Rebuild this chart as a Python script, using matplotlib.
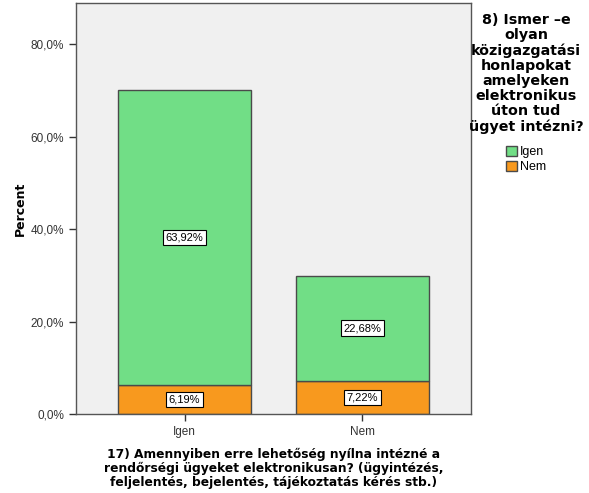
import matplotlib.pyplot as plt
from matplotlib.patches import Patch
from matplotlib.ticker import FuncFormatter

plt.rcParams["font.family"] = ["Liberation Sans", "DejaVu Sans"]

# 17) kérdés válaszai (x tengely) és a 8) kérdés szerinti bontás
categories = ["Igen", "Nem"]
igen_vals = [63.92, 22.68]
nem_vals = [6.19, 7.22]
series_names = ["Igen", "Nem"]

green = "#71DE86"
orange = "#F8991E"
edge = "#4a4a4a"
bold = {"family": "DejaVu Sans", "weight": "bold"}

fig = plt.figure(figsize=(5.89, 4.93), dpi=100)
ax = fig.add_axes([76 / 589, 1 - 414 / 493, 395 / 589, 411 / 493])
ax.set_facecolor("#F0F0F0")

x = list(range(len(categories)))
w = 0.747
ax.bar(x, nem_vals, w, color=orange, edgecolor=edge, linewidth=1.0, zorder=2)
ax.bar(x, igen_vals, w, bottom=nem_vals, color=green, edgecolor=edge,
       linewidth=1.0, zorder=2)

box = dict(boxstyle="square,pad=0.25", facecolor="white", edgecolor="black", linewidth=0.8)
for i in x:
    ax.text(i, nem_vals[i] / 2, f"{nem_vals[i]:.2f}%".replace(".", ","),
            ha="center", va="center", fontsize=8, bbox=box, zorder=3)
    ax.text(i, nem_vals[i] + igen_vals[i] / 2, f"{igen_vals[i]:.2f}%".replace(".", ","),
            ha="center", va="center", fontsize=8, bbox=box, zorder=3)

ax.set_xlim(-0.61, 1.61)
ax.set_ylim(0, 88.9)
ax.set_yticks([0, 20, 40, 60, 80])
ax.yaxis.set_major_formatter(FuncFormatter(lambda v, p: f"{v:.1f}%".replace(".", ",")))
ax.set_xticks(x)
ax.set_xticklabels(categories)
ax.tick_params(axis="both", labelsize=8.5, length=5, width=1, color="#333333",
               labelcolor="#333333", direction="out")
for s in ax.spines.values():
    s.set_color("#555555")
    s.set_linewidth(1)

ax.set_ylabel("Percent", fontsize=9, fontdict=bold, labelpad=3)
ax.set_xlabel("17) Amennyiben erre lehetőség nyílna intézné a\n"
              "rendőrségi ügyeket elektronikusan? (ügyintézés,\n"
              "feljelentés, bejelentés, tájékoztatás kérés stb.)",
              fontsize=8.8, fontdict=bold, linespacing=1.1, labelpad=7)

handles = [Patch(facecolor=green, edgecolor=edge), Patch(facecolor=orange, edgecolor=edge)]
leg = fig.legend(handles, series_names, loc="upper center",
                 bbox_to_anchor=(526 / 589, 1 - 3 / 493), frameon=False,
                 title="8) Ismer \u2013e\nolyan\nközigazgatási\nhonlapokat\namelyeken\n"
                       "elektronikus\núton tud\nügyet intézni?",
                 title_fontproperties={"family": "DejaVu Sans", "weight": "bold", "size": 10.3},
                 fontsize=9, handlelength=0.9, handleheight=0.9, handletextpad=0.2,
                 labelspacing=0.2, borderpad=0.3)
leg.get_title().set_multialignment("center")
leg.get_title().set_linespacing(1.1)
leg._legend_box.sep = 8.5

fig.savefig("out.png", dpi=100)
